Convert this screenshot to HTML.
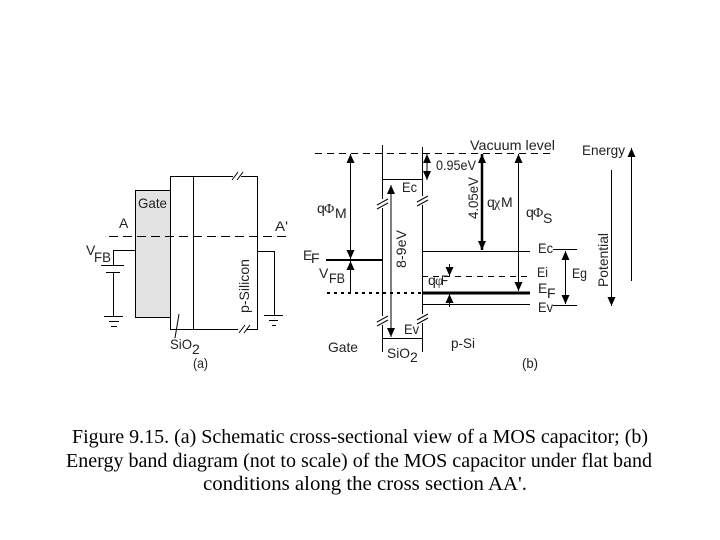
<!DOCTYPE html>
<html><head><meta charset="utf-8"><style>
html,body{margin:0;padding:0;background:#fff}
svg{display:block}
text{font-family:"Liberation Sans",sans-serif;font-size:14px;fill:#222}
.c{font-family:"Liberation Serif",serif;font-size:20px;fill:#000}
.s{font-family:"Liberation Serif",serif}
line,path{stroke:#000;stroke-width:1;fill:none}
</style></head><body>
<svg width="720" height="540" viewBox="0 0 720 540" xmlns="http://www.w3.org/2000/svg">
<defs>
<marker id="a" markerUnits="userSpaceOnUse" markerWidth="9" markerHeight="10" refX="9" refY="4" orient="auto-start-reverse" viewBox="0 0 9 8"><path d="M0 0L9 4L0 8Z" style="fill:#000;stroke:none"/></marker>
</defs>
<rect width="720" height="540" fill="#fff"/>

<!-- (a) structure -->
<rect x="135.5" y="190.5" width="35" height="127" fill="#e3e3e3" stroke="#000"/>
<path d="M170.5 176.5H257.5V329.5H170.5ZM193.5 176.5V329.5"/>
<path d="M233 176.5h8M238 329.500h8" style="stroke:#fff;stroke-width:3"/>
<path d="M232 180L238 172M237 180L243 172M239 333L245 325M244 333L250 325"/>
<line x1="109" y1="236.500" x2="287" y2="236.500" stroke-dasharray="9 5"/>
<path d="M135 250.500H113.500V265M101 265.500H124M106 272.500H120M113.500 272V316M104 316.500H123M109 321.500H119M111 326.500H117"/>
<path d="M257 251.500H274.500V315M264 315.500H283M269 320.500H278M272 325.500H276"/>
<line x1="179" y1="314" x2="175" y2="338"/>

<text x="138" y="208" textLength="29" lengthAdjust="spacingAndGlyphs">Gate</text>
<text x="119" y="228">A</text>
<text x="275" y="231" textLength="13" lengthAdjust="spacingAndGlyphs">A'</text>
<text x="86" y="255">V</text><text x="94" y="262" textLength="17" lengthAdjust="spacingAndGlyphs">FB</text>
<text transform="translate(249 313) rotate(-90)" textLength="54" lengthAdjust="spacingAndGlyphs">p-Silicon</text>
<text x="170" y="349" textLength="22" lengthAdjust="spacingAndGlyphs">SiO</text><text x="192" y="354">2</text>
<text x="193" y="368" textLength="15" lengthAdjust="spacingAndGlyphs">(a)</text>

<!-- (b) band diagram -->
<line x1="315" y1="153.500" x2="555" y2="153.500" stroke-dasharray="7 5"/>
<path d="M382.500 145V352M422.500 147V352M382 179.500H423M382 338.500H423"/>
<path d="M382.500 199v9M382.500 316v9M422.500 196v9M422.500 314v9" style="stroke:#fff;stroke-width:3"/>
<path d="M377 205L388 199M377 209L388 203M377 322L388 316M377 326L388 320M417 202L428 196M417 206L428 200M417 320L428 314M417 324L428 318"/>
<line x1="391" y1="185" x2="391" y2="337" marker-start="url(#a)" marker-end="url(#a)"/>
<line x1="350.500" y1="154" x2="350.500" y2="259" marker-start="url(#a)" marker-end="url(#a)"/>
<line x1="350.500" y1="261" x2="350.500" y2="292" marker-start="url(#a)"/>
<line x1="427" y1="154" x2="427" y2="180" marker-start="url(#a)" marker-end="url(#a)"/>
<line x1="482" y1="154" x2="482" y2="250" style="stroke-width:2.500" marker-start="url(#a)" marker-end="url(#a)"/>
<line x1="518.500" y1="154" x2="518.500" y2="291" marker-start="url(#a)" marker-end="url(#a)"/>
<line x1="326" y1="260" x2="382" y2="260" style="stroke-width:2"/>
<line x1="327" y1="293" x2="422" y2="293" style="stroke-width:2" stroke-dasharray="3 4"/>
<line x1="422" y1="293" x2="530" y2="293" style="stroke-width:3"/>
<line x1="422" y1="251.500" x2="530" y2="251.500"/>
<line x1="422" y1="276.500" x2="530" y2="276.500" stroke-dasharray="6 5"/>
<line x1="422" y1="304.500" x2="530" y2="304.500"/>
<line x1="449.500" y1="264" x2="449.500" y2="276" marker-end="url(#a)"/>
<line x1="449.500" y1="294" x2="449.500" y2="307" marker-start="url(#a)"/>
<path d="M553 249.500H577M553 305.500H577"/>
<line x1="565.500" y1="251" x2="565.500" y2="304" marker-start="url(#a)" marker-end="url(#a)"/>
<line x1="611.500" y1="170" x2="611.500" y2="306" marker-end="url(#a)"/>
<line x1="631.500" y1="148" x2="631.500" y2="281" marker-start="url(#a)"/>

<text x="470" y="150" textLength="85" lengthAdjust="spacingAndGlyphs">Vacuum level</text>
<text x="582" y="155" textLength="43" lengthAdjust="spacingAndGlyphs">Energy</text>
<text x="436" y="170" textLength="40" lengthAdjust="spacingAndGlyphs">0.95eV</text>
<text x="402" y="192" textLength="15" lengthAdjust="spacingAndGlyphs">Ec</text>
<text transform="translate(478 219) rotate(-90)" textLength="42" lengthAdjust="spacingAndGlyphs">4.05eV</text>
<text x="487" y="207">q</text><text x="494" y="207" class="s">χ</text><text x="501" y="207">M</text>
<text x="317" y="213">q</text><text x="324" y="213" class="s">Φ</text><text x="335" y="218">M</text>
<text x="526" y="217">q</text><text x="533" y="217" class="s">Φ</text><text x="543" y="223">S</text>
<text transform="translate(406 268) rotate(-90)" textLength="38" lengthAdjust="spacingAndGlyphs">8-9eV</text>
<text transform="translate(608 287) rotate(-90)" textLength="54" lengthAdjust="spacingAndGlyphs">Potential</text>
<text x="303" y="260">E</text><text x="311" y="263">F</text>
<text x="319" y="278">V</text><text x="329" y="283" textLength="16" lengthAdjust="spacingAndGlyphs">FB</text>
<text x="428" y="285">q</text><text x="435" y="285" class="s">φ</text><text x="441" y="285" textLength="7" lengthAdjust="spacingAndGlyphs">F</text>
<text x="538" y="253" textLength="15" lengthAdjust="spacingAndGlyphs">Ec</text>
<text x="537" y="277" textLength="11" lengthAdjust="spacingAndGlyphs">Ei</text>
<text x="538" y="293">E</text><text x="547" y="298">F</text>
<text x="538" y="312" textLength="15" lengthAdjust="spacingAndGlyphs">Ev</text>
<text x="572" y="278" textLength="15" lengthAdjust="spacingAndGlyphs">Eg</text>
<text x="404" y="334" textLength="15" lengthAdjust="spacingAndGlyphs">Ev</text>
<text x="328" y="352" textLength="30" lengthAdjust="spacingAndGlyphs">Gate</text>
<text x="387" y="358" textLength="23" lengthAdjust="spacingAndGlyphs">SiO</text><text x="410" y="362">2</text>
<text x="451" y="348" textLength="24" lengthAdjust="spacingAndGlyphs">p-Si</text>
<text x="522" y="368" textLength="16" lengthAdjust="spacingAndGlyphs">(b)</text>

<!-- caption -->
<text class="c" x="72" y="443" textLength="576" lengthAdjust="spacingAndGlyphs">Figure 9.15. (a) Schematic cross-sectional view of a MOS capacitor; (b)</text>
<text class="c" x="66" y="467" textLength="586" lengthAdjust="spacingAndGlyphs">Energy band diagram (not to scale) of the MOS capacitor under flat band</text>
<text class="c" x="203" y="490" textLength="324" lengthAdjust="spacingAndGlyphs">conditions along the cross section AA'.</text>
</svg>
</body></html>
